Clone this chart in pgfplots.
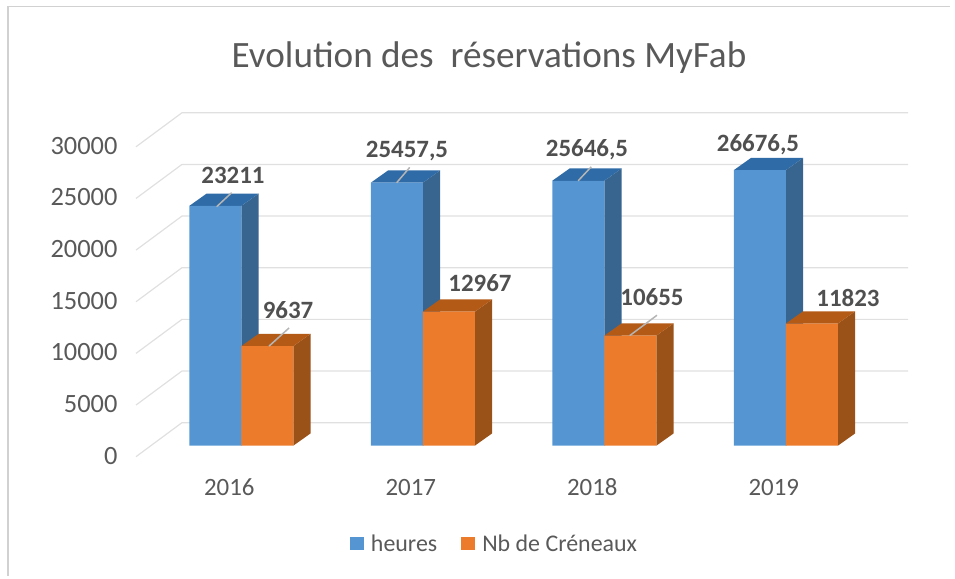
\documentclass[border=0pt]{standalone}
\usepackage{pgfplots}
\pgfplotsset{compat=1.18}
\usepackage{fontspec}
\setmainfont{Carlito}
\definecolor{txt}{HTML}{595959}
\definecolor{gridc}{HTML}{E0E0E0}
\definecolor{bfront}{HTML}{5596D2}
\definecolor{btop}{HTML}{2F6BA6}
\definecolor{bside}{HTML}{386590}
\definecolor{ofront}{HTML}{ED7B2C}
\definecolor{otop}{HTML}{B35A16}
\definecolor{oside}{HTML}{9A5218}
\definecolor{lead}{HTML}{B5B5B5}
\begin{document}
\begin{tikzpicture}[x=1bp,y=1bp]
\path (0,0) rectangle (955,579);
\draw[draw=black!18,line width=1.2bp] (8,579-6.5) -- (950,579-6.5);
\draw[draw=black!18,line width=1.2bp] (8,579-6.5) -- (8,579-576);
\begin{axis}[
  at={(136bp,122.3bp)},anchor=south west,
  scale only axis,width=772bp,height=344bp,
  xmin=-0.58,xmax=3.673,ymin=-1065,ymax=32236,
  clip=false,
  axis line style={draw=none},
  major tick length=0pt,
  scaled ticks=false,
  xtick={0,1,2,3},xticklabels={2016,2017,2018,2019},
  ytick={0,5000,10000,15000,20000,25000,30000},
  /pgf/number format/assume math mode=true,
  /pgf/number format/1000 sep={},
  ticklabel style={text=txt},
  xticklabel style={font=\fontsize{25}{27}\selectfont,xshift=-12bp,yshift=-19bp,text height=16bp,text depth=0pt},
  yticklabel style={font=\fontsize{26.5}{28}\selectfont,yshift=-10bp,xshift=-15bp},
  legend style={draw=none,fill=none,at={(357.5bp,-87.3bp)},anchor=center,
     legend columns=2,font=\fontsize{24}{26}\selectfont\color{txt},
     /tikz/every even column/.append style={column sep=24bp},
     inner sep=0pt,nodes={inner sep=0pt}},
  legend image code/.code={\fill[#1] (0bp,-6.5bp) rectangle (14bp,7bp);},
]
% grid
\addplot[gridc,line width=1.2bp,forget plot] coordinates {(-0.58,-1065) (-0.327,2226) (3.673,2226)};
\addplot[gridc,line width=1.2bp,forget plot] coordinates {(-0.58,3935) (-0.327,7226) (3.673,7226)};
\addplot[gridc,line width=1.2bp,forget plot] coordinates {(-0.58,8935) (-0.327,12226) (3.673,12226)};
\addplot[gridc,line width=1.2bp,forget plot] coordinates {(-0.58,13935) (-0.327,17226) (3.673,17226)};
\addplot[gridc,line width=1.2bp,forget plot] coordinates {(-0.58,18935) (-0.327,22226) (3.673,22226)};
\addplot[gridc,line width=1.2bp,forget plot] coordinates {(-0.58,23935) (-0.327,27226) (3.673,27226)};
\addplot[gridc,line width=1.2bp,forget plot] coordinates {(-0.58,28935) (-0.327,32226) (3.673,32226)};
% blue sides and tops
\addplot[fill=bside,draw=none,forget plot] coordinates {(0,0) (0.0953,1190) (0.0953,24401) (0,23211)} -- cycle;
\addplot[fill=btop,draw=none,forget plot] coordinates {(-0.2865,23211) (-0.1912,24401) (0.0953,24401) (0,23211)} -- cycle;
\addplot[fill=bside,draw=none,forget plot] coordinates {(1,0) (1.0953,1190) (1.0953,26647.5) (1,25457.5)} -- cycle;
\addplot[fill=btop,draw=none,forget plot] coordinates {(0.7135,25457.5) (0.8088,26647.5) (1.0953,26647.5) (1,25457.5)} -- cycle;
\addplot[fill=bside,draw=none,forget plot] coordinates {(2,0) (2.0953,1190) (2.0953,26836.5) (2,25646.5)} -- cycle;
\addplot[fill=btop,draw=none,forget plot] coordinates {(1.7135,25646.5) (1.8088,26836.5) (2.0953,26836.5) (2,25646.5)} -- cycle;
\addplot[fill=bside,draw=none,forget plot] coordinates {(3,0) (3.0953,1190) (3.0953,27866.5) (3,26676.5)} -- cycle;
\addplot[fill=btop,draw=none,forget plot] coordinates {(2.7135,26676.5) (2.8088,27866.5) (3.0953,27866.5) (3,26676.5)} -- cycle;
% blue fronts
\addplot[ybar,bar width=0.2865,bar shift=-0.14325,fill=bfront,draw=none] coordinates {(0,23211) (1,25457.5) (2,25646.5) (3,26676.5)};
\addlegendentry{\hspace{7bp}heures}
% orange sides and tops
\addplot[fill=oside,draw=none,forget plot] coordinates {(0.2865,0) (0.3818,1190) (0.3818,10827) (0.2865,9637)} -- cycle;
\addplot[fill=otop,draw=none,forget plot] coordinates {(0,9637) (0.0953,10827) (0.3818,10827) (0.2865,9637)} -- cycle;
\addplot[fill=oside,draw=none,forget plot] coordinates {(1.2865,0) (1.3818,1190) (1.3818,14157) (1.2865,12967)} -- cycle;
\addplot[fill=otop,draw=none,forget plot] coordinates {(1,12967) (1.0953,14157) (1.3818,14157) (1.2865,12967)} -- cycle;
\addplot[fill=oside,draw=none,forget plot] coordinates {(2.2865,0) (2.3818,1190) (2.3818,11845) (2.2865,10655)} -- cycle;
\addplot[fill=otop,draw=none,forget plot] coordinates {(2,10655) (2.0953,11845) (2.3818,11845) (2.2865,10655)} -- cycle;
\addplot[fill=oside,draw=none,forget plot] coordinates {(3.2865,0) (3.3818,1190) (3.3818,13013) (3.2865,11823)} -- cycle;
\addplot[fill=otop,draw=none,forget plot] coordinates {(3,11823) (3.0953,13013) (3.3818,13013) (3.2865,11823)} -- cycle;
% orange fronts
\addplot[ybar,bar width=0.2865,bar shift=0.14325,fill=ofront,draw=none] coordinates {(0,9637) (1,12967) (2,10655) (3,11823)};
\addlegendentry{\hspace{7bp}Nb de Créneaux}
% leader lines
\addplot[lead,line width=1.5bp,forget plot] coordinates {(-0.1355,23136) (-0.053,24492)};
\addplot[lead,line width=1.5bp,forget plot] coordinates {(0.856,25457.5) (0.928,26940)};
\addplot[lead,line width=1.5bp,forget plot] coordinates {(1.856,25646.5) (1.928,27000)};
\addplot[lead,line width=1.5bp,forget plot] coordinates {(0.153,9637) (0.263,11394)};
\addplot[lead,line width=1.5bp,forget plot] coordinates {(2.14,10655) (2.29,12630)};
\end{axis}
\node[text=txt,font=\fontsize{37.3}{40}\selectfont] at (489,579-57.5) {Evolution des\ \ réservations MyFab};
\tikzset{vl/.style={text=txt!90!black,font=\bfseries\fontsize{25}{27}\selectfont}}
\node[vl] at (233,579-175) {23211};
\node[vl] at (407,579-151) {25457,5};
\node[vl] at (587,579-150) {25646,5};
\node[vl] at (758,579-145) {26676,5};
\node[vl] at (288,579-310) {9637};
\node[vl] at (480,579-283) {12967};
\node[vl] at (652,579-297) {10655};
\node[vl] at (848,579-298) {11823};
\end{tikzpicture}
\end{document}
